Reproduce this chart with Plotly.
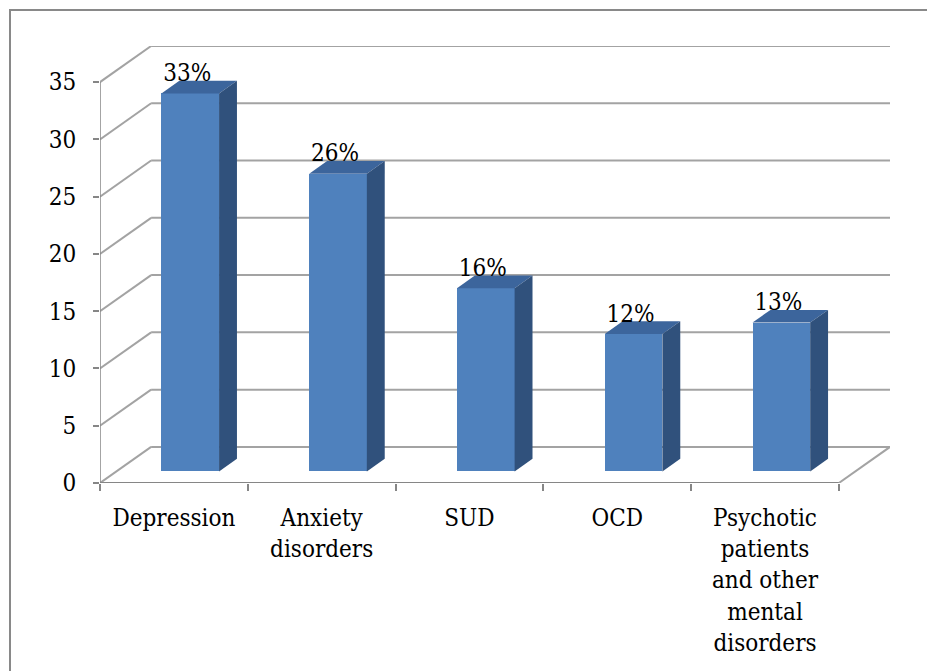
import plotly.graph_objects as go

# ---- data ----
categories = ["Depression", "Anxiety<br>disorders", "SUD", "OCD",
              "Psychotic<br>patients<br>and other<br>mental<br>disorders"]
values = [33, 26, 16, 12, 13]
labels = ["33%", "26%", "16%", "12%", "13%"]
y_ticks = [0, 5, 10, 15, 20, 25, 30, 35]

# ---- oblique 3D projection parameters (in axis units) ----
DX = 0.346   # depth shift along x (category units)
DY = 3.15    # depth shift along y (value units)
Z0, Z1 = 0.32, 0.67   # bar front / back depth fraction
BW = 0.39    # bar width
LABEL_GAP = 0.5

FRONT = "#4F81BD"
TOP = "#3C659C"
SIDE = "#30517C"
GRID = "#A3A3A3"
AXIS = "#868686"
FONT = "DejaVu Serif Condensed, DejaVu Serif, serif"

n = len(categories)
xs = list(range(n))
xmin, xmax = -0.5, n - 0.5

fig = go.Figure()

# front faces
fig.add_trace(go.Bar(
    x=[i + Z0 * DX for i in xs], y=values, base=[Z0 * DY] * n, width=BW,
    marker=dict(color=FRONT, line=dict(width=0)), showlegend=False, hoverinfo="skip"))

dDx = (Z1 - Z0) * DX
dDy = (Z1 - Z0) * DY
for i, v in zip(xs, values):
    xl = i + Z0 * DX - BW / 2
    xr = i + Z0 * DX + BW / 2
    b0 = Z0 * DY
    # top face
    fig.add_trace(go.Scatter(
        x=[xl, xr, xr + dDx, xl + dDx, xl],
        y=[v + b0, v + b0, v + b0 + dDy, v + b0 + dDy, v + b0],
        fill="toself", fillcolor=TOP, mode="lines", line=dict(width=0, color=TOP),
        showlegend=False, hoverinfo="skip"))
    # side face
    fig.add_trace(go.Scatter(
        x=[xr, xr, xr + dDx, xr + dDx, xr],
        y=[b0, v + b0, v + b0 + dDy, b0 + dDy, b0],
        fill="toself", fillcolor=SIDE, mode="lines", line=dict(width=0, color=SIDE),
        showlegend=False, hoverinfo="skip"))

# data labels
fig.add_trace(go.Scatter(
    x=[i + Z0 * DX - 0.02 for i in xs], y=[v + Z1 * DY + LABEL_GAP for v in values],
    mode="text", text=labels, textposition="middle center",
    textfont=dict(family=FONT, size=24, color="black"),
    showlegend=False, hoverinfo="skip"))

shapes = []
# gridlines: left wall diagonal + back wall horizontal
for t in y_ticks:
    shapes.append(dict(type="line", xref="x", yref="y", x0=xmin, y0=t,
                       x1=xmin + DX, y1=t + DY, line=dict(color=GRID, width=2), layer="below"))
    shapes.append(dict(type="line", xref="x", yref="y", x0=xmin + DX, y0=t + DY,
                       x1=xmax + DX, y1=t + DY, line=dict(color=GRID, width=2), layer="below"))
# floor right edge
shapes.append(dict(type="line", xref="x", yref="y", x0=xmax, y0=0, x1=xmax + DX, y1=DY,
                   line=dict(color=GRID, width=2), layer="below"))
# front floor edge (x axis line)
shapes.append(dict(type="line", xref="x", yref="y", x0=xmin, y0=0, x1=xmax, y1=0,
                   line=dict(color=AXIS, width=2), layer="below"))
# y axis line
shapes.append(dict(type="line", xref="x", yref="y", x0=xmin, y0=0, x1=xmin, y1=y_ticks[-1],
                   line=dict(color=AXIS, width=1.5), layer="below"))
# outer chart border (top & left visible)
shapes.append(dict(type="rect", xref="paper", yref="paper",
                   x0=(10 - 100) / 790, x1=(1000 - 100) / 790,
                   y0=(483 - 700) / 437, y1=(483 - 10) / 437,
                   line=dict(color="#898989", width=2), fillcolor="rgba(0,0,0,0)"))

fig.update_layout(
    width=927, height=671,
    margin=dict(l=100, r=37, t=46, b=188),
    paper_bgcolor="white", plot_bgcolor="white",
    shapes=shapes,
    bargap=0,
    font=dict(family=FONT, size=24, color="black"),
    xaxis=dict(range=[xmin, xmax + DX], tickvals=xs, ticktext=categories,
               ticks="", showgrid=False, zeroline=False, showline=False,
               ticklabelstandoff=18,
               minor=dict(tickvals=[k - 0.5 for k in range(n + 1)], ticks="outside",
                          ticklen=7, tickcolor=AXIS, tickwidth=2, showgrid=False),
               tickfont=dict(family=FONT, size=24, color="black"), fixedrange=True),
    yaxis=dict(range=[0, y_ticks[-1] + DY], tickvals=y_ticks, ticks="outside",
               ticklen=6, tickcolor=AXIS, tickwidth=1.5, showgrid=False,
               zeroline=False, showline=False, ticklabelstandoff=12,
               tickfont=dict(family=FONT, size=24, color="black"), fixedrange=True),
)

fig.write_html("out.html")
